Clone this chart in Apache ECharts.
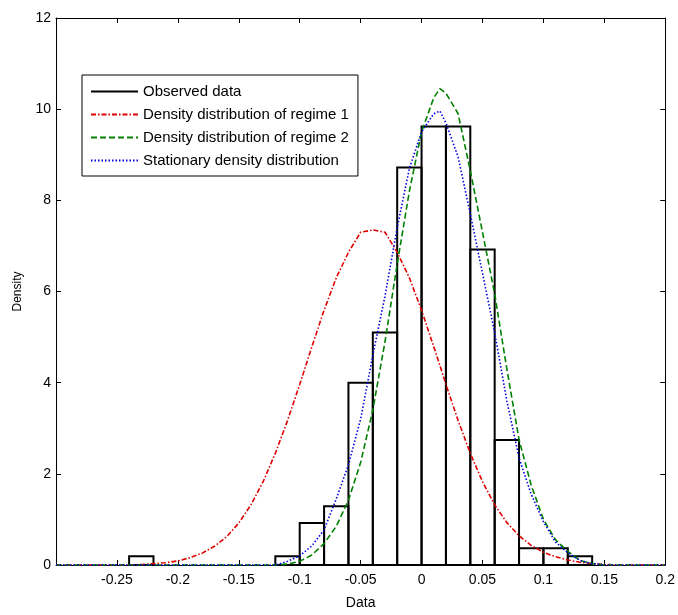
<!DOCTYPE html>
<html>
<head>
<meta charset="utf-8">
<script src="https://cdn.jsdelivr.net/npm/echarts@6/dist/echarts.min.js"></script>
<style>html,body{margin:0;padding:0;background:#fff;}#c{width:678px;height:615px;}</style>
</head>
<body>
<div id="c"></div>
<script>
// Histogram of observed data (bin start, heights), bin width 0.02
const binStarts  = [-0.24, -0.12, -0.10, -0.08, -0.06, -0.04, -0.02, 0.00, 0.02, 0.04, 0.06, 0.08, 0.10, 0.12];
const binWidth   = 0.02;
const binHeights = [0.19, 0.19, 0.92, 1.29, 4.0, 5.1, 8.72, 9.62, 9.62, 6.92, 2.74, 0.37, 0.37, 0.19];

// Density curves sampled on a common grid
const xGrid = [-0.30,-0.29,-0.28,-0.27,-0.26,-0.25,-0.24,-0.23,-0.22,-0.21,-0.20,-0.19,-0.18,-0.17,-0.16,-0.15,-0.14,-0.13,-0.12,-0.11,-0.10,-0.09,-0.08,-0.07,-0.06,-0.05,-0.04,-0.03,-0.02,-0.01,0.00,0.01,0.015,0.02,0.03,0.04,0.05,0.06,0.07,0.08,0.09,0.10,0.11,0.12,0.13,0.14,0.15,0.16,0.17,0.18,0.19,0.20];
const regime1 = [0,0,0,0,0,0,0,0.01,0.03,0.05,0.09,0.16,0.26,0.41,0.62,0.92,1.32,1.83,2.45,3.17,3.96,4.79,5.59,6.30,6.86,7.3,7.35,7.3,6.86,6.30,5.59,4.79,4.38,3.96,3.17,2.45,1.83,1.32,0.93,0.64,0.43,0.28,0.18,0.11,0.06,0.03,0.01,0,0,0,0,0];
const regime2 = [0,0,0,0,0,0,0,0,0,0,0,0,0,0,0,0,0,0,0,0.02,0.08,0.22,0.47,0.85,1.42,2.25,3.4,4.9,6.6,8.2,9.5,10.25,10.45,10.35,9.9,8.65,7.3,5.95,4.3,2.75,1.75,1.0,0.55,0.3,0.1,0.03,0,0,0,0,0,0];
const stationary = [0,0,0,0,0,0,0,0,0,0,0,0,0,0,0,0,0,0,0,0.08,0.2,0.42,0.77,1.45,2.2,3.2,4.6,5.9,7.4,8.7,9.5,9.9,9.96,9.7,8.95,7.7,6.4,5.1,3.6,2.35,1.55,0.95,0.5,0.27,0.1,0.03,0,0,0,0,0,0];

const xTicks = {min: -0.3, max: 0.2, interval: 0.05};
const yTicks = {min: 0, max: 12, interval: 2};
const names = ['Observed data', 'Density distribution of regime 1', 'Density distribution of regime 2', 'Stationary density distribution'];

const FONT = 'Liberation Sans';
const histData = binStarts.map((s, i) => [s, s + binWidth, binHeights[i]]);
const pts = arr => xGrid.map((x, i) => [x, arr[i]]);

function fmtX(v) {
  if (Math.abs(v - xTicks.min) < 1e-9) return '';
  return (Math.round(v * 1000) / 1000).toString();
}

const axisCommon = {
  axisLine: {show: true, onZero: false, lineStyle: {color: '#000', width: 1}},
  axisTick: {show: true, inside: true, length: 5, lineStyle: {color: '#000'}},
  splitLine: {show: false}
};

const chart = echarts.init(document.getElementById('c'), null, {renderer: 'canvas'});
chart.setOption({
  animation: false,
  backgroundColor: '#fff',
  textStyle: {fontFamily: FONT},
  grid: {left: 56, right: 12, top: 18, bottom: 39},
  legend: {
    orient: 'vertical', left: 82, top: 75,
    backgroundColor: '#fff', borderColor: '#000', borderWidth: 1, borderRadius: 0,
    padding: [9, 9, 8, 8], itemGap: 8, itemWidth: 47, itemHeight: 14,
    itemStyle: {opacity: 0},
    textStyle: {fontSize: 15, color: '#000', fontFamily: FONT},
    data: [
      {name: names[0], icon: 'path://M0,0H48V2H0Z', itemStyle: {opacity: 1, color: '#000'}},
      {name: names[1]}, {name: names[2]}, {name: names[3]}
    ]
  },
  xAxis: [
    Object.assign({type: 'value', position: 'bottom', min: xTicks.min, max: xTicks.max, interval: xTicks.interval,
      axisLabel: {color: '#000', fontSize: 14, margin: 8, formatter: fmtX, fontFamily: FONT},
      name: 'Data', nameLocation: 'middle', nameGap: 31,
      nameTextStyle: {fontSize: 14, color: '#000', fontFamily: FONT}}, axisCommon),
    Object.assign({type: 'value', position: 'top', min: xTicks.min, max: xTicks.max, interval: xTicks.interval,
      axisLabel: {show: false}}, axisCommon)
  ],
  yAxis: [
    Object.assign({type: 'value', position: 'left', min: yTicks.min, max: yTicks.max, interval: yTicks.interval,
      axisLabel: {color: '#000', fontSize: 14, margin: 5, fontFamily: FONT},
      name: 'Density', nameLocation: 'middle', nameGap: 32, nameRotate: 90,
      nameTextStyle: {fontSize: 12, color: '#000', fontFamily: FONT}}, axisCommon),
    Object.assign({type: 'value', position: 'right', min: yTicks.min, max: yTicks.max, interval: yTicks.interval,
      axisLabel: {show: false}}, axisCommon)
  ],
  series: [
    {
      name: names[0], type: 'custom', xAxisIndex: 0, yAxisIndex: 0,
      itemStyle: {color: '#000'},
      encode: {x: [0, 1], y: 2},
      data: histData,
      renderItem: function (params, api) {
        const p0 = api.coord([api.value(0), api.value(2)]);
        const p1 = api.coord([api.value(1), 0]);
        return {
          type: 'rect',
          shape: {x: p0[0], y: p0[1], width: p1[0] - p0[0], height: p1[1] - p0[1]},
          style: {fill: 'none', stroke: '#000', lineWidth: 2}
        };
      },
      z: 1
    },
    {
      name: names[1], type: 'line', data: pts(regime1), symbol: 'none', smooth: false,
      itemStyle: {color: '#e00000'},
      lineStyle: {color: '#e00000', width: 1.6, type: [5, 2, 1.5, 2]}, z: 2
    },
    {
      name: names[2], type: 'line', data: pts(regime2), symbol: 'none', smooth: false,
      itemStyle: {color: '#008000'},
      lineStyle: {color: '#008000', width: 1.6, type: [6, 3]}, z: 3
    },
    {
      name: names[3], type: 'line', data: pts(stationary), symbol: 'none', smooth: false,
      itemStyle: {color: '#0000e0'},
      lineStyle: {color: '#0000e0', width: 1.6, type: [1.5, 2]}, z: 4
    }
  ]
});
</script>
</body>
</html>
